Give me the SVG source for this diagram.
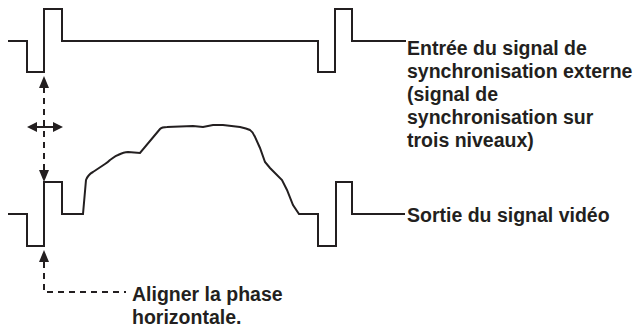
<svg xmlns="http://www.w3.org/2000/svg" width="642" height="327" viewBox="0 0 642 327">
<style>
.w{fill:none;stroke:#231f20;stroke-width:2;stroke-linejoin:miter}
.d{fill:none;stroke:#231f20;stroke-width:2;stroke-dasharray:6,5}
.t{font-family:"Liberation Sans",Arial,sans-serif;font-weight:bold;font-size:19.5px;fill:#231f20}
</style>
<defs>
<marker id="ah" viewBox="0 0 10 10" refX="10" refY="5" markerWidth="10" markerHeight="10" markerUnits="userSpaceOnUse" orient="auto">
<path d="M0,0 L10,5 L0,10 Z" fill="#231f20"/>
</marker>
</defs>
<g id="sync-input">
<path class="w" d="M8,41 H27 V72 H44 V9 H62 V41 H318 V72 H335 V9 H352 V41 H406"/>
</g>
<g id="video-output">
<path class="w" d="M8,214 H27 V246 H44 V182 H62 V214 H83 L86,180 C88,175 91,173 93,172 L105,164 C108,162 109,161 110,160 C113,158 115,156 118,155 C122,153 125,152 128,152 L140,153 L160,129 C162,127 164,127 167,127 L193,126 L203,127 L213,125 L223,125 L240,127 C245,128 248,129 250,130 C253,132 254,134 255,137 L260,148 L265,162 L270,168 L282,180 L287,190 L293,205 L299,214 H318 V246 H336 V182 H352 V214 H405"/>
</g>
<g id="connectors">
<path class="d" d="M44,170 V88" />
<path d="M44,76 L39,88 L49,88 Z" fill="#231f20"/>
<path d="M44,182 L39,170 L49,170 Z" fill="#231f20"/>
<line class="w" x1="34" y1="127" x2="56" y2="127"/>
<path d="M27,127 L37,122 L37,132 Z" fill="#231f20"/>
<path d="M63,127 L53,122 L53,132 Z" fill="#231f20"/>
<path d="M44,250 L39,262 L49,262 Z" fill="#231f20"/>
<path class="d" d="M44,262 V292 H126"/>
</g>
<g id="label-sync">
<text class="t" x="407" y="55">Entrée du signal de</text>
<text class="t" x="407" y="78">synchronisation externe</text>
<text class="t" x="407" y="101">(signal de</text>
<text class="t" x="407" y="124">synchronisation sur</text>
<text class="t" x="407" y="147">trois niveaux)</text>
</g>
<g id="label-video">
<text class="t" x="407" y="222">Sortie du signal vidéo</text>
</g>
<g id="label-align">
<text class="t" x="132" y="301">Aligner la phase</text>
<text class="t" x="132" y="324">horizontale.</text>
</g>
</svg>
